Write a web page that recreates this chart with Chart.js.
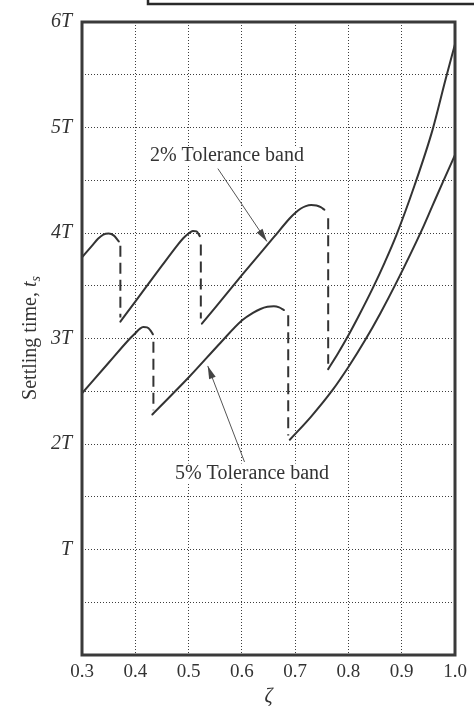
<!DOCTYPE html>
<html>
<head>
<meta charset="utf-8">
<script src="https://cdn.jsdelivr.net/npm/chart.js@4.4.1/dist/chart.umd.min.js"></script>
<style>
  html,body{margin:0;padding:0;background:#fff;}
  canvas{display:block;}
</style>
</head>
<body>
<canvas id="myChart" width="474" height="707"></canvas>
<script>
  // settling time (units of T) against damping ratio zeta
  // 2% tolerance band, four branches
  const zeta2a = [0.30, 0.319, 0.33, 0.34, 0.35, 0.36, 0.369];
  const ts2a   = [3.77, 3.88, 3.945, 3.985, 3.995, 3.975, 3.92];
  const zeta2b = [0.372, 0.40, 0.45, 0.48, 0.49, 0.50, 0.508, 0.515, 0.521];
  const ts2b   = [3.16, 3.35, 3.69, 3.89, 3.95, 3.995, 4.02, 4.015, 3.97];
  const zeta2c = [0.525, 0.60, 0.66, 0.69, 0.70, 0.71, 0.72, 0.73, 0.74, 0.748, 0.755];
  const ts2c   = [3.14, 3.60, 3.96, 4.14, 4.19, 4.23, 4.255, 4.265, 4.26, 4.245, 4.22];
  const zeta2d = [0.762, 0.78, 0.80, 0.82, 0.845, 0.868, 0.89, 0.924, 0.958, 0.982, 1.0];
  const ts2d   = [2.71, 2.855, 3.03, 3.22, 3.47, 3.72, 3.98, 4.45, 4.98, 5.45, 5.79];
  // 5% tolerance band, three branches
  const zeta5a = [0.30, 0.35, 0.39, 0.40, 0.408, 0.415, 0.422, 0.428, 0.433];
  const ts5a   = [2.48, 2.77, 3.00, 3.05, 3.09, 3.11, 3.105, 3.08, 3.04];
  const zeta5b = [0.432, 0.50, 0.56, 0.60, 0.62, 0.635, 0.648, 0.66, 0.67, 0.679];
  const ts5b   = [2.28, 2.63, 2.96, 3.17, 3.24, 3.28, 3.30, 3.305, 3.295, 3.27];
  const zeta5c = [0.69, 0.73, 0.77, 0.80, 0.832, 0.86, 0.889, 0.937, 0.957, 0.977, 1.0];
  const ts5c   = [2.04, 2.26, 2.51, 2.73, 2.99, 3.24, 3.52, 4.02, 4.25, 4.48, 4.74];
  // dashed jumps between the branches
  const jumpZeta = [0.372, 0.523, 0.762, 0.434, 0.687];
  const jumpTop  = [3.88, 3.89, 4.14, 2.97, 3.22];
  const jumpLow  = [3.20, 3.19, 2.76, 2.32, 2.08];
  // y tick labels (grid every 0.5T, label on whole T)
  const yTickLabels = {1: 'T', 2: '2T', 3: '3T', 4: '4T', 5: '5T', 6: '6T'};

  const ink = '#333';
  const serif = '"Liberation Serif", "Times New Roman", serif';

  function pts(xs, ys){
    return xs.map((x, i) => ({x: x, y: ys[i]}));
  }
  function curve(xs, ys){
    return {data: pts(xs, ys), borderColor: ink, borderWidth: 2, pointRadius: 0,
      cubicInterpolationMode: 'monotone', borderCapStyle: 'round', fill: false};
  }

  const datasets = [
    curve(zeta2a, ts2a), curve(zeta2b, ts2b), curve(zeta2c, ts2c), curve(zeta2d, ts2d),
    curve(zeta5a, ts5a), curve(zeta5b, ts5b), curve(zeta5c, ts5c)
  ];
  jumpZeta.forEach((z, i) => {
    datasets.push({data: [{x: z, y: jumpTop[i]}, {x: z, y: jumpLow[i]}],
      borderColor: ink, borderWidth: 2, borderDash: [11, 6], pointRadius: 0, fill: false});
  });

  // annotation texts and arrows, in data units
  const notes = [
    {text: '2% Tolerance band', at: [0.572, 4.73], from: [0.555, 4.61], to: [0.647, 3.92]},
    {text: '5% Tolerance band', at: [0.619, 1.72], from: [0.605, 1.83], to: [0.536, 2.74]}
  ];

  function arrow(ctx, x1, y1, x2, y2){
    ctx.beginPath(); ctx.moveTo(x1, y1); ctx.lineTo(x2, y2); ctx.stroke();
    const a = Math.atan2(y2 - y1, x2 - x1), L = 13, W = 3.5;
    ctx.beginPath();
    ctx.moveTo(x2, y2);
    ctx.lineTo(x2 - L*Math.cos(a) + W*Math.sin(a), y2 - L*Math.sin(a) - W*Math.cos(a));
    ctx.lineTo(x2 - L*Math.cos(a) - W*Math.sin(a), y2 - L*Math.sin(a) + W*Math.cos(a));
    ctx.closePath(); ctx.fill();
  }

  const extras = {
    id: 'extras',
    afterDatasetsDraw(chart){
      const {ctx, chartArea: a, scales: {x, y}} = chart;
      ctx.save();
      // frame
      ctx.strokeStyle = '#3a3a3a'; ctx.lineWidth = 3;
      ctx.strokeRect(a.left, a.top, a.right - a.left, a.bottom - a.top);
      // notes
      ctx.strokeStyle = '#555'; ctx.fillStyle = '#444'; ctx.lineWidth = 1;
      notes.forEach(n => {
        arrow(ctx, x.getPixelForValue(n.from[0]), y.getPixelForValue(n.from[1]),
          x.getPixelForValue(n.to[0]), y.getPixelForValue(n.to[1]));
      });
      ctx.font = '20px ' + serif;
      ctx.textAlign = 'center'; ctx.textBaseline = 'middle';
      notes.forEach(n => {
        const tx = x.getPixelForValue(n.at[0]), ty = y.getPixelForValue(n.at[1]);
        const w = ctx.measureText(n.text).width;
        ctx.fillStyle = '#fff'; ctx.fillRect(tx - w/2 - 2, ty - 10, w + 4, 20);
        ctx.fillStyle = '#333'; ctx.fillText(n.text, tx, ty);
      });
      ctx.restore();
    },
    afterDraw(chart){
      const ctx = chart.ctx;
      ctx.save();
      // piece of the box above the figure
      ctx.strokeStyle = '#2a2a2a'; ctx.lineWidth = 2.5;
      ctx.beginPath(); ctx.moveTo(148, 0); ctx.lineTo(148, 4); ctx.lineTo(474, 4); ctx.stroke();
      // y axis title with subscript
      ctx.translate(29, 338); ctx.rotate(-Math.PI/2);
      ctx.fillStyle = '#333'; ctx.textBaseline = 'alphabetic'; ctx.textAlign = 'left';
      const main = 'Settling time, ';
      ctx.font = '20px ' + serif; const w1 = ctx.measureText(main).width;
      ctx.font = 'italic 20px ' + serif; const w2 = ctx.measureText('t').width;
      ctx.font = 'italic 14px ' + serif; const w3 = ctx.measureText('s').width;
      let x0 = -(w1 + w2 + w3) / 2;
      ctx.font = '20px ' + serif; ctx.fillText(main, x0, 7);
      ctx.font = 'italic 20px ' + serif; ctx.fillText('t', x0 + w1, 7);
      ctx.font = 'italic 14px ' + serif; ctx.fillText('s', x0 + w1 + w2, 11);
      ctx.restore();
    }
  };

  const config = {
    type: 'line',
    data: {datasets: datasets},
    options: {
      animation: false,
      responsive: false,
      layout: {padding: {top: 15, right: 19, left: 0, bottom: 0}},
      plugins: {legend: {display: false}, tooltip: {enabled: false}},
      scales: {
        x: {
          type: 'linear', min: 0.3, max: 1.0,
          afterFit(scale){ scale.height = 52; },
          grid: {color: 'rgba(40,40,40,0.9)', lineWidth: 1, drawTicks: false},
          border: {display: false, dash: [1, 2]},
          ticks: {stepSize: 0.1, padding: 6, color: '#333', font: {family: serif, size: 19},
            callback: v => v.toFixed(1)},
          title: {display: true, text: 'ζ', color: '#333', padding: 0,
            font: {family: serif, size: 20, style: 'italic', lineHeight: 1}}
        },
        y: {
          type: 'linear', min: 0, max: 6,
          afterFit(scale){ scale.width = 82; },
          grid: {color: 'rgba(40,40,40,0.9)', lineWidth: 1, drawTicks: false},
          border: {display: false, dash: [1, 2]},
          ticks: {stepSize: 0.5, padding: 10, color: '#333',
            font: {family: serif, size: 20, style: 'italic'},
            callback: v => yTickLabels[v] || ''}
        }
      }
    },
    plugins: [extras]
  };

  let myChart = new Chart(document.getElementById('myChart'), config);
</script>
</body>
</html>
